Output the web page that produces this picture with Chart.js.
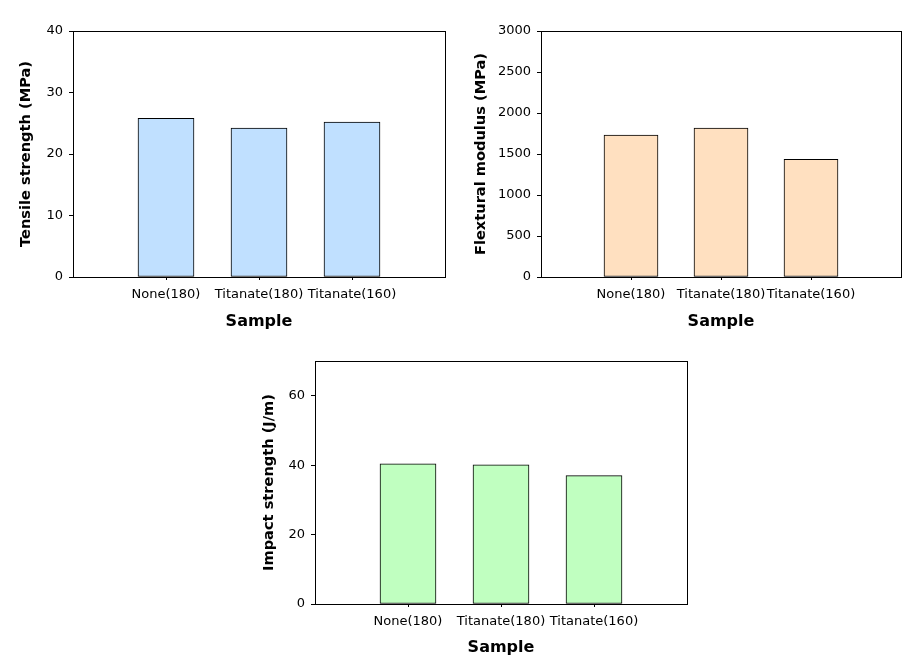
<!DOCTYPE html>
<html>
<head>
<meta charset="utf-8">
<script src="https://cdn.jsdelivr.net/npm/chart.js@4/dist/chart.umd.min.js"></script>
<style>
  html, body { margin: 0; padding: 0; background: #fff; }
  #wrap { position: relative; width: 911px; height: 667px; }
  canvas { position: absolute; }
</style>
</head>
<body>
<div id="wrap">
  <canvas id="tensile" style="left:0px;top:0px;width:460px;height:340px"></canvas>
  <canvas id="flexural" style="left:460px;top:0px;width:451px;height:340px"></canvas>
  <canvas id="impact" style="left:240px;top:340px;width:460px;height:327px"></canvas>
</div>
<script>
// sample names (empty slots at both ends keep the bars at 1/4, 1/2, 3/4)
const samples = ["None(180)", "Titanate(180)", "Titanate(160)"]

const tensileStrength = [25.8, 24.2, 25.2]     // MPa
const flexuralModulus = [1730, 1815, 1435]     // MPa
const impactStrength = [40.4, 40.1, 37.0]      // J/m

const tensileTicks = { max: 40, step: 10 }
const flexuralTicks = { max: 3000, step: 500 }
const impactTicks = { max: 70, step: 20 }

const FONT = "'DejaVu Sans', 'Liberation Sans', Arial, sans-serif"

// box around the plot area
const framePlugin = {
  id: "frame",
  afterDraw(chart) {
    const { ctx, chartArea: a } = chart
    ctx.save()
    ctx.strokeStyle = "#000"
    ctx.lineWidth = 1
    ctx.strokeRect(Math.round(a.left) + 0.5, Math.round(a.top) + 0.5,
      Math.round(a.right - a.left), Math.round(a.bottom - a.top))
    ctx.restore()
  }
}

function makeChart(id, values, color, yTitle, ticksCfg, opt) {
  const labels = ["", ...samples, ""]
  const data = [null, ...values, null]
  const ctx = document.getElementById(id).getContext("2d")
  return new Chart(ctx, {
    type: "bar",
    data: {
      labels: labels,
      datasets: [{
        data: data,
        backgroundColor: color,
        borderColor: "#000",
        borderWidth: 1,
        borderSkipped: false,
        barThickness: opt.barW
      }]
    },
    options: {
      responsive: false,
      animation: false,
      devicePixelRatio: 1,
      layout: { padding: { top: opt.padTop, right: opt.padRight, left: 0, bottom: 0 } },
      plugins: { legend: { display: false }, tooltip: { enabled: false } },
      scales: {
        x: {
          type: "category",
          offset: false,
          afterFit: (s) => { s.height = opt.xHeight },
          grid: {
            offset: false,
            drawOnChartArea: false,
            tickLength: 3,
            tickColor: (c) => (c.tick && c.tick.label) ? "#000" : "rgba(0,0,0,0)"
          },
          border: { display: false },
          ticks: {
            color: "#000",
            font: { family: FONT, size: 13 },
            padding: 7,
            maxRotation: 0,
            autoSkip: false
          },
          title: {
            display: true,
            text: "Sample",
            color: "#000",
            font: { family: FONT, size: 16, weight: "bold" },
            padding: { top: 0, bottom: opt.xTitlePad }
          }
        },
        y: {
          min: 0,
          max: ticksCfg.max,
          afterFit: (s) => { s.width = opt.yWidth },
          grid: { drawOnChartArea: false, tickLength: 4, tickColor: "#000" },
          border: { display: false },
          ticks: {
            stepSize: ticksCfg.step,
            includeBounds: false,
            color: "#000",
            font: { family: FONT, size: 13 },
            padding: 6,
            callback: (v) => String(v)
          },
          title: {
            display: true,
            text: yTitle,
            color: "#000",
            font: { family: FONT, size: 14.6, weight: "bold" },
            padding: { top: opt.yTitlePad, bottom: 0 }
          }
        }
      }
    },
    plugins: [framePlugin]
  })
}

makeChart("tensile", tensileStrength, "#c0e0ff", "Tensile strength (MPa)", tensileTicks,
  { padTop: 31, padRight: 15, xHeight: 63, yWidth: 73, yTitlePad: 17, xTitlePad: 8.7, barW: 56 })

makeChart("flexural", flexuralModulus, "#ffe0c0", "Flextural modulus (MPa)", flexuralTicks,
  { padTop: 31, padRight: 10, xHeight: 63, yWidth: 81, yTitlePad: 12, xTitlePad: 8.7, barW: 54 })

makeChart("impact", impactStrength, "#c0ffc0", "Impact strength (J/m)", impactTicks,
  { padTop: 21, padRight: 13, xHeight: 63, yWidth: 75, yTitlePad: 20, xTitlePad: 9.7, barW: 56 })
</script>
</body>
</html>
